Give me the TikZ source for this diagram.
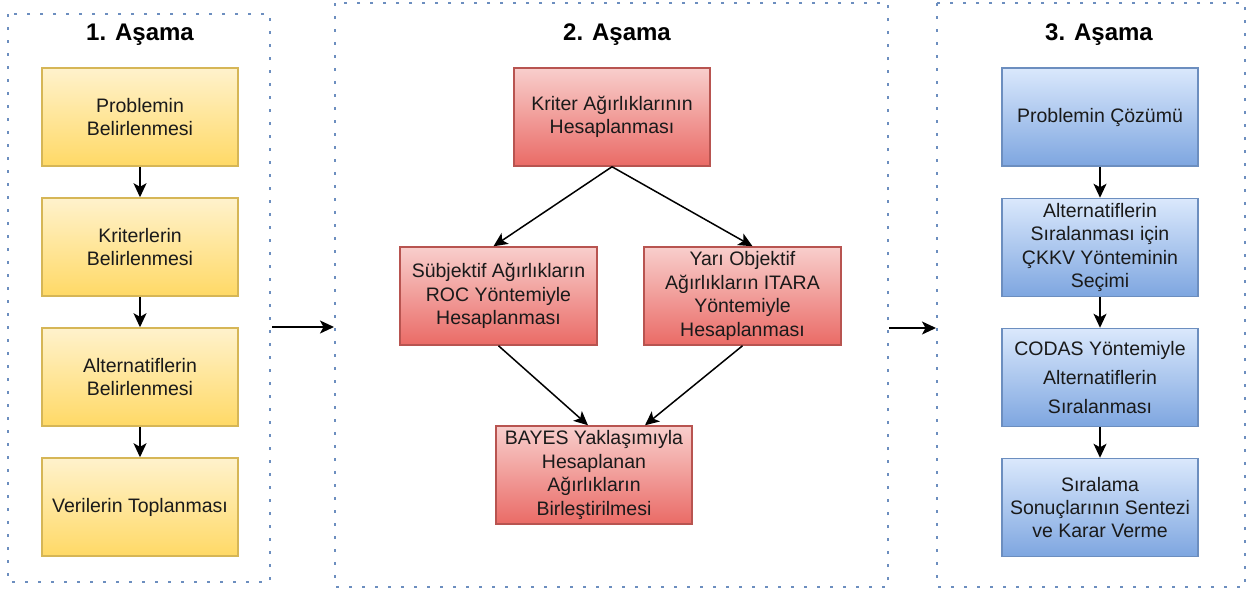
\documentclass[tikz,border=0pt]{standalone}
\usepackage{fontspec}
\setmainfont{Liberation Sans}
\usetikzlibrary{arrows.meta}
\definecolor{yfill}{HTML}{FFF2CC}
\definecolor{ygrad}{HTML}{FFD966}
\definecolor{ystroke}{HTML}{D6B656}
\definecolor{rfill}{HTML}{F8CECC}
\definecolor{rgrad}{HTML}{EA6B66}
\definecolor{rstroke}{HTML}{B85450}
\definecolor{bfill}{HTML}{DAE8FC}
\definecolor{bgrad}{HTML}{7EA6E0}
\definecolor{bstroke}{HTML}{6C8EBF}
\definecolor{dotc}{HTML}{6C8EBF}
\definecolor{txt}{HTML}{1A1A1A}
\tikzset{
  box/.style={rectangle, minimum width=196pt, minimum height=98pt, inner sep=0pt,
    align=center, line width=1.5pt, text=txt,
    font=\fontsize{19.5}{23.4}\selectfont},
  ybox/.style={box, draw=ystroke, top color=yfill, bottom color=ygrad},
  rbox/.style={box, draw=rstroke, top color=rfill, bottom color=rgrad},
  bbox/.style={box, draw=bstroke, top color=bfill, bottom color=bgrad},
  container/.style={draw=dotc, line width=2.6pt, dash pattern=on 2.6pt off 10.4pt, line cap=butt},
  title/.style={font=\fontsize{24}{28}\selectfont\bfseries, text=black},
  arr/.style={draw=black, line width=1.5pt, -{Stealth[length=14pt,width=13pt,inset=3.5pt]}}
}
\begin{document}
\begin{tikzpicture}[x=1pt,y=-1pt]
\useasboundingbox (0,0) rectangle (1246,592);
% containers
\draw[container] (8,14) rectangle (270,582);
\draw[container] (335,3) rectangle (888,587);
\draw[container] (937,3) rectangle (1245,587);
% titles
\node[title] (t1) at (140,35) {1. Aşama};
\node[title] (t2) at (617,35) {2. Aşama};
\node[title] (t3) at (1099,35) {3. Aşama};
% stage 1
\node[ybox] (p1) at (140,117) {Problemin\\Belirlenmesi};
\node[ybox] (p2) at (140,247) {Kriterlerin\\Belirlenmesi};
\node[ybox] (p3) at (140,377) {Alternatiflerin\\Belirlenmesi};
\node[ybox] (p4) at (140,507) {Verilerin Toplanması};
\draw[arr] (p1.south) -- (p2.north);
\draw[arr] (p2.south) -- (p3.north);
\draw[arr] (p3.south) -- (p4.north);
% stage 2
\node[rbox] (k) at (612,117) {Kriter Ağırlıklarının\\Hesaplanması};
\node[rbox, minimum width=197pt] (s) at (498.5,296) {Sübjektif Ağırlıkların\\ROC Yöntemiyle\\Hesaplanması};
\node[rbox, minimum width=197pt] (y) at (742.5,296) {Yarı Objektif\\Ağırlıkların ITARA\\Yöntemiyle\\Hesaplanması};
\node[rbox] (b) at (594,475) {BAYES Yaklaşımıyla\\Hesaplanan\\Ağırlıkların\\Birleştirilmesi};
\draw[arr] (k.south) -- ([xshift=-5pt]s.north);
\draw[arr] (k.south) -- ([xshift=10pt]y.north);
\draw[arr] (s.south) -- ([xshift=-6pt]b.north);
\draw[arr] (y.south) -- ([xshift=51pt]b.north);
% stage 3
\node[bbox] (c1) at (1100,117) {Problemin Çözümü};
\node[bbox] (c2) at (1100,247.5) {Alternatiflerin\\Sıralanması için\\ÇKKV Yönteminin\\Seçimi};
\node[bbox, font=\fontsize{19.5}{29.3}\selectfont] (c3) at (1100,377.5) {CODAS Yöntemiyle\\Alternatiflerin\\Sıralanması};
\node[bbox] (c4) at (1100,507.5) {Sıralama\\Sonuçlarının Sentezi\\ve Karar Verme};
\draw[arr] (c1.south) -- (c2.north);
\draw[arr] (c2.south) -- (c3.north);
\draw[arr] (c3.south) -- (c4.north);
% between stages
\coordinate (a1s) at (272,327);
\coordinate (a1e) at (334,327);
\coordinate (a2s) at (889,328);
\coordinate (a2e) at (936,328);
\draw[arr] (a1s) -- (a1e);
\draw[arr] (a2s) -- (a2e);
\end{tikzpicture}
\end{document}
